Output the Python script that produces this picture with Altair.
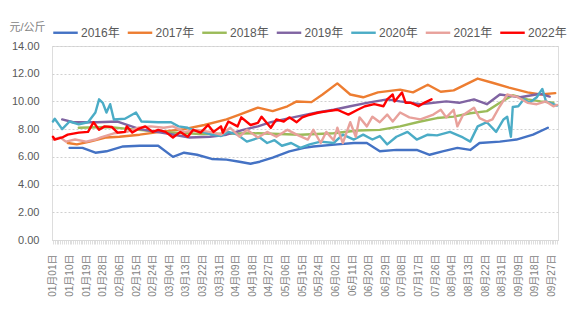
import altair as alt
import pandas as pd

years = ["2016年", "2017年", "2018年", "2019年", "2020年", "2021年", "2022年"]
colors = ["#4472C4", "#ED7D31", "#9BBB59", "#8064A2", "#4BACC6", "#E8A19B", "#FF0000"]
widths = [2.4, 2.4, 2.4, 2.4, 2.4, 2.4, 3.2]

d2016 = ["01-10","01-17","01-24","01-30","02-08","02-17","02-27","03-06","03-12","03-19","03-27",
         "04-04","04-11","04-17","04-22","04-29","05-08","05-16","05-21","06-03","06-12","06-19",
         "06-26","07-05","07-16","07-23","07-30","08-07","08-14","08-19","08-30","09-08","09-17","09-25"]
v2016 = [6.65,6.65,6.3,6.4,6.75,6.8,6.8,6.0,6.3,6.15,5.85,
         5.8,5.65,5.5,5.65,5.95,6.4,6.65,6.75,6.9,7.0,7.0,
         6.4,6.5,6.5,6.15,6.4,6.65,6.5,7.0,7.1,7.25,7.6,8.1]

d2017 = ["01-09","01-14","01-21","01-30","02-06","02-17","02-28","03-12","03-23","04-04","04-11",
         "04-21","04-29","05-07","05-12","05-20","05-26","06-03","06-10","06-17","06-25","07-07",
         "07-14","07-22","07-29","08-05","08-18","08-26","09-04","09-14","09-21","09-29"]
v2017 = [7.0,6.9,7.1,7.4,7.45,7.6,7.8,8.0,8.3,8.7,9.05,
         9.55,9.3,9.65,10.0,9.95,10.5,11.3,10.5,10.3,10.65,10.85,
         10.65,11.2,10.7,10.8,11.65,11.35,11.0,10.65,10.5,10.6]

d2018 = ["01-15","01-31","02-12","02-28","03-21","04-21","05-14","06-01","06-14","06-26","07-07",
         "07-18","07-27","08-05","08-14","08-23","08-30","09-06","09-14","09-21","09-28"]
v2018 = [8.1,8.15,8.0,7.8,7.65,7.7,7.6,7.7,7.9,7.95,8.2,
         8.55,8.8,8.9,9.15,9.3,9.9,10.45,10.15,10.0,9.9]

d2019 = ["01-06","01-12","01-25","02-05","02-17","03-02","03-15","03-26","04-04","04-13","04-21",
         "04-28","05-05","05-12","05-23","06-01","06-10","06-19","06-30","07-07","07-18","08-01",
         "08-08","08-16","08-23","08-30","09-10","09-21","09-26"]
v2019 = [8.7,8.5,8.5,8.55,8.0,7.7,7.4,7.45,7.6,7.95,8.2,
         8.5,8.7,8.9,9.2,9.4,9.65,9.9,10.15,10.0,9.8,10.0,
         9.9,10.15,9.8,10.5,10.3,10.55,10.35]

d2020 = ["01-01","01-02","01-06","01-10","01-15","01-20","01-24","01-26","01-28","01-30","02-01",
         "02-03","02-09","02-15","02-18","02-27","03-05","03-09","03-14","03-18","03-22","03-27",
         "04-01","04-05","04-10","04-15","04-22","04-26","04-30","05-04","05-09","05-14","05-19",
         "05-25","06-01","06-06","06-12","06-17","06-22","06-26","06-30","07-05","07-11","07-16",
         "07-22","07-27","08-03","08-10","08-14","08-18","08-23","08-28","09-01","09-03","09-05",
         "09-06","09-09","09-12","09-15","09-19","09-22","09-24","09-28","09-30"]
v2020 = [8.55,8.75,8.0,8.55,8.35,8.5,9.2,10.15,9.9,9.2,9.8,
         8.7,8.75,9.2,8.55,8.5,8.5,8.2,8.1,7.9,7.8,7.6,
         7.5,7.8,7.6,7.1,7.4,7.0,7.2,6.8,7.0,6.65,6.9,
         7.1,7.0,7.6,7.25,7.6,7.25,7.5,6.9,7.45,7.8,7.25,
         7.6,7.55,7.8,7.4,7.1,8.2,8.5,7.8,8.7,8.9,7.45,
         9.6,9.65,10.15,9.9,10.3,10.9,10.0,9.8,9.7]

d2021 = ["01-01","01-05","01-08","01-13","01-19","01-24","01-27","02-03","02-10","02-16","02-23",
         "03-01","03-06","03-12","03-19","03-26","04-01","04-06","04-11","04-15","04-21","04-26",
         "05-01","05-07","05-12","05-18","05-21","05-25","05-28","06-01","06-03","06-06","06-10",
         "06-13","06-15","06-19","06-22","06-26","06-30","07-03","07-07","07-12","07-18","07-25",
         "07-29","08-01","08-05","08-07","08-10","08-16","08-19","08-23","08-26","08-30","09-03",
         "09-08","09-14","09-19","09-24","09-28","09-30"]
v2021 = [7.25,7.4,7.1,7.25,7.1,7.25,7.4,7.7,7.8,8.1,8.2,
         8.1,8.2,7.8,7.95,7.8,7.6,8.1,7.45,7.95,7.4,7.8,
         7.45,7.95,7.6,7.25,7.95,7.0,7.8,7.2,8.1,7.0,8.5,
         7.45,8.85,8.2,8.9,8.5,9.05,8.55,9.2,8.85,8.7,9.05,
         9.4,8.85,9.4,8.2,9.0,9.55,8.8,8.55,8.7,9.65,10.5,
         10.35,9.9,9.8,10.0,9.65,9.75]

d2022 = ["01-01","01-02","01-06","01-09","01-15","01-20","01-23","01-26","01-29","02-02","02-05",
         "02-09","02-10","02-13","02-16","02-20","02-24","02-27","03-02","03-06","03-10","03-14",
         "03-17","03-21","03-25","03-28","04-01","04-02","04-05","04-10","04-12","04-17","04-21",
         "04-23","04-28","05-01","05-05","05-08","05-12","05-15","05-18","05-24","05-29","06-03",
         "06-09","06-14","06-18","06-23","06-28","06-30","07-03","07-04","07-08","07-10","07-13",
         "07-17","07-20","07-24"]
v2022 = [7.45,7.25,7.4,7.6,7.75,7.8,8.5,7.95,8.2,8.15,7.75,
         7.8,8.2,7.75,8.0,8.2,7.8,7.95,7.8,7.4,7.8,7.45,
         7.95,7.75,8.3,7.8,8.2,7.75,8.55,8.2,8.85,8.3,8.45,
         8.9,8.1,8.7,8.55,8.85,8.5,8.85,9.0,9.2,9.3,9.4,
         9.05,9.4,9.65,9.8,9.65,10.15,10.5,10.0,10.65,9.9,9.9,
         9.65,9.9,10.15]

series = [(years[0], d2016, v2016), (years[1], d2017, v2017), (years[2], d2018, v2018),
          (years[3], d2019, v2019), (years[4], d2020, v2020), (years[5], d2021, v2021),
          (years[6], d2022, v2022)]

base = pd.Timestamp("2020-01-01")
rows = []
for name, ds, vs in series:
    for d, v in zip(ds, vs):
        rows.append({"series": name, "day": (pd.Timestamp("2020-" + d) - base).days, "value": v})
df = pd.DataFrame(rows)

FONT = "Liberation Sans, Noto Sans CJK SC, sans-serif"
GREY = "#595959"

chart = alt.Chart(df).mark_line(strokeJoin="round", strokeCap="round").encode(
    x=alt.X("day:Q",
            scale=alt.Scale(domain=[-0.5, 273.5], nice=False, zero=False),
            axis=alt.Axis(title=None, values=list(range(0, 274)), grid=False,
                          labelExpr="datum.value % 9 == 0 ? timeFormat(datetime(2020, 0, 1 + datum.value), '%m月%d日') : ''",
                          labelAngle=270, labelFontSize=10, labelColor="#7F7F7F", labelFont=FONT,
                          labelOverlap=False, labelPadding=10, labelBound=False, labelFlush=False,
                          tickSize=4, tickColor="#C8C8C8", tickWidth=0.6,
                          domainColor="#D9D9D9", domainWidth=1)),
    y=alt.Y("value:Q",
            scale=alt.Scale(domain=[0, 14], nice=False),
            axis=alt.Axis(values=[0, 2, 4, 6, 8, 10, 12, 14], format=".2f",
                          title="元/公斤", titleAngle=0, titleX=-43, titleY=-19,
                          titleAlign="left", titleBaseline="middle", titleFontSize=11,
                          titleFontWeight="normal", titleColor="#7F7F7F", titleFont=FONT,
                          labelFontSize=11, labelColor=GREY, labelFont=FONT, labelPadding=13,
                          domain=False, ticks=False,
                          gridColor="#D0D0D0", gridDash=[2, 2], gridWidth=1)),
    color=alt.Color("series:N",
                    scale=alt.Scale(domain=years, range=colors),
                    legend=alt.Legend(title=None, orient="none", direction="horizontal",
                                      legendX=0, legendY=-27, symbolType="stroke",
                                      symbolSize=600, symbolStrokeWidth=3,
                                      labelFontSize=12, labelColor=GREY, labelFont=FONT,
                                      labelOffset=2, columnPadding=2.5, padding=0)),
    strokeWidth=alt.StrokeWidth("series:N", scale=alt.Scale(domain=years, range=widths), legend=None),
).properties(
    width=506, height=194,
    autosize=alt.AutoSizeParams(type="none"),
    padding={"left": 52, "top": 46, "right": 18, "bottom": 84},
).configure_view(stroke=None).configure(background="white")

chart.save("out.html", embed_options={"renderer": "svg", "actions": False})
